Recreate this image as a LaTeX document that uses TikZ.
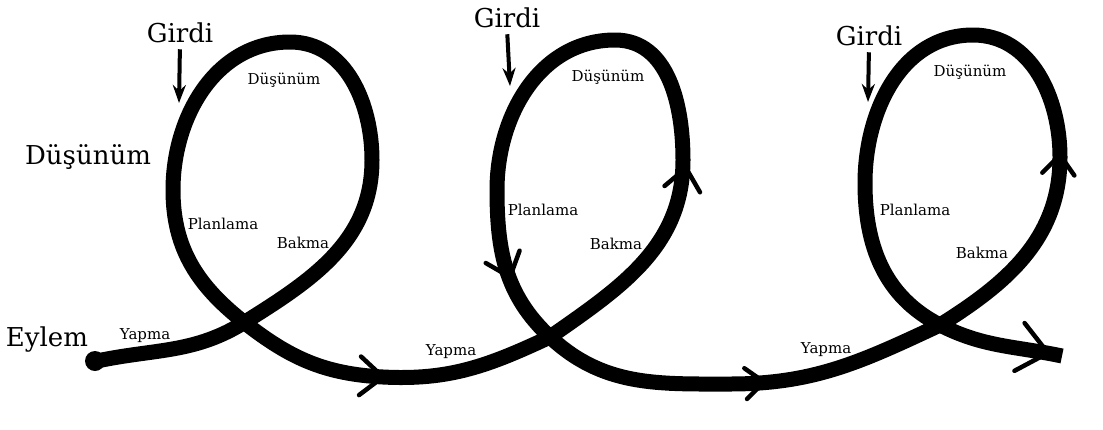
\documentclass[tikz,border=0pt]{standalone}
\usepackage{fontspec}
\setmainfont{DejaVu Serif}
\usetikzlibrary{arrows.meta}

\newcommand{\chevron}[3]{\draw[chevron line] (#1) ++(#2+140:#3pt) -- (#1) -- ++(#2-140:#3pt);}

\begin{document}
\begin{tikzpicture}[
		x=1pt, y=-1pt,
		bigtext/.style={inner sep=0pt, font=\fontsize{26}{30}\selectfont},
		smalltext/.style={inner sep=0pt, font=\fontsize{15}{17}\selectfont},
		spiral/.style={line width=15pt, line cap=butt, line join=round},
		chevron line/.style={line width=4.5pt, line cap=round},
		inarrow/.style={line width=4pt, -{Stealth[length=18pt, width=13pt]}, shorten <=6pt}
		]
		\fill[white] (0, 0) rectangle (1103, 429);
		\useasboundingbox (0, 0) rectangle (1103, 429);

		% the spiral
		\draw[spiral] (97,361)
			to[out=12, in=212] (245,322)
			to[out=32, in=270] (372,160)
			to[out=90, in=0] (290,42)
			to[out=180, in=90] (173,190)
			to[out=270, in=142] (245,323)
			to[out=-38, in=177] (383,377)
			to[out=-3, in=205] (550,337)
			to[out=35, in=270] (683,160)
			to[out=90, in=0] (615,40)
			to[out=180, in=90] (497,190)
			to[out=270, in=137] (550,337)
			to[out=-43, in=180] (730,384)
			to[out=0, in=205] (940,325)
			to[out=32, in=270] (1060,157)
			to[out=90, in=0] (973,35)
			to[out=180, in=90] (865,183)
			to[out=270, in=153] (940,325)
			to[out=-27, in=168] (1062,356);
		\fill (95, 361) circle (10pt);

		% direction marks
		\chevron{383,377}{-3}{30}
		\chevron{510,277}{-70}{28}
		\chevron{686,168}{80}{28}
		\chevron{764,382}{5}{24}
		\chevron{1060,155}{85}{25}
		\chevron{1048,353}{-12}{38}

		% inputs
		\node at (180, 33) [name=girdi 1, bigtext] {Girdi};
		\node at (507, 18) [name=girdi 2, bigtext] {Girdi};
		\node at (869, 36) [name=girdi 3, bigtext] {Girdi};
		\coordinate (entry 1) at (179, 103);
		\coordinate (entry 2) at (510, 86);
		\coordinate (entry 3) at (868, 102);
		\draw[inarrow] (girdi 1.south) -- (entry 1);
		\draw[inarrow] (girdi 2.south) -- (entry 2);
		\draw[inarrow] (girdi 3.south) -- (entry 3);

		% stages
		\node at (88, 157) [name=dusunum, bigtext] {Düşünüm};
		\node at (47, 340) [name=eylem, bigtext] {Eylem};

		\node at (284, 80) [name=dusunum 1, smalltext] {Düşünüm};
		\node at (223, 224) [name=planlama 1, smalltext] {Planlama};
		\node at (303, 243) [name=bakma 1, smalltext] {Bakma};
		\node at (145, 336) [name=yapma 1, smalltext] {Yapma};

		\node at (608, 77) [name=dusunum 2, smalltext] {Düşünüm};
		\node at (543, 210) [name=planlama 2, smalltext] {Planlama};
		\node at (616, 244) [name=bakma 2, smalltext] {Bakma};
		\node at (451, 352) [name=yapma 2, smalltext] {Yapma};

		\node at (970, 72) [name=dusunum 3, smalltext] {Düşünüm};
		\node at (915, 210) [name=planlama 3, smalltext] {Planlama};
		\node at (982, 253) [name=bakma 3, smalltext] {Bakma};
		\node at (826, 350) [name=yapma 3, smalltext] {Yapma};
	\end{tikzpicture}
\end{document}
